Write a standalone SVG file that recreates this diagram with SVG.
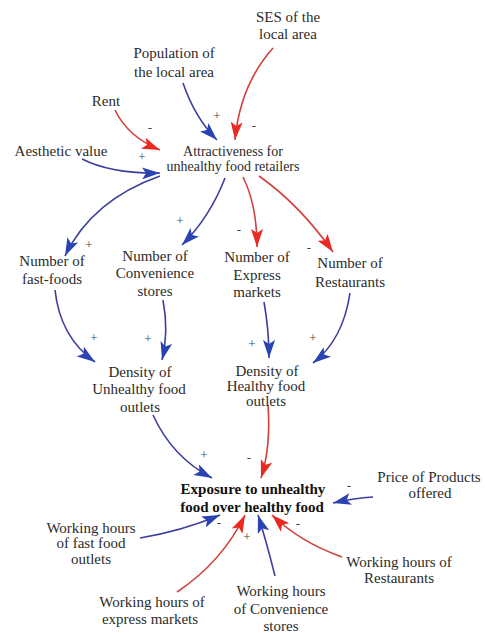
<svg xmlns="http://www.w3.org/2000/svg" width="485" height="633" viewBox="0 0 485 633">
  <style>
    text { font-family: "Liberation Serif", "DejaVu Serif", "Times New Roman", serif; font-size: 15px; fill: #2b2b2b; text-anchor: middle; }
    .small { font-size: 14px; }
    .bold { font-weight: bold; fill: #111; }
    .sign { font-size: 13px; fill: #444; }
    .pos { fill: none; stroke: #3d3f9e; stroke-width: 1.6; marker-end: url(#headBlue); }
    .neg { fill: none; stroke: #d2403c; stroke-width: 1.6; marker-end: url(#headRed); }
  </style>
  <defs>
    <marker id="headBlue" viewBox="0 0 18 12" refX="18" refY="6" markerWidth="18" markerHeight="12" markerUnits="userSpaceOnUse" orient="auto">
      <path d="M0,0 L18,6 L0,12 L4,6 Z" fill="#2b42b2"/>
    </marker>
    <marker id="headRed" viewBox="0 0 18 12" refX="18" refY="6" markerWidth="18" markerHeight="12" markerUnits="userSpaceOnUse" orient="auto">
      <path d="M0,0 L18,6 L0,12 L4,6 Z" fill="#ea2a22"/>
    </marker>
  </defs>

  <rect width="485" height="633" fill="#ffffff"/>

  <!-- causal links -->
  <g id="connectors">
    <path class="neg" d="M115,110 Q128,137 160,150"/>
    <path class="pos" d="M183,83 Q195,118 217,140"/>
    <path class="neg" d="M273,48 Q240,85 235,140"/>
    <path class="pos" d="M82,159 Q112,174 160,173"/>
    <path class="pos" d="M160,176 Q92,200 65,256"/>
    <path class="pos" d="M225,178 Q210,217 182,245"/>
    <path class="neg" d="M243,177 Q257,205 257,247"/>
    <path class="neg" d="M259,176 Q300,205 333,252"/>
    <path class="pos" d="M55,290 Q60,337 95,362"/>
    <path class="pos" d="M163,300 Q169,332 162,360"/>
    <path class="pos" d="M264,302 Q269,330 269,358"/>
    <path class="pos" d="M350,293 Q343,340 313,363"/>
    <path class="pos" d="M153,415 Q172,457 212,478"/>
    <path class="neg" d="M268,405 Q271,447 261,478"/>
    <path class="pos" d="M373,497 Q355,498 333,503"/>
    <path class="pos" d="M140,538 Q182,531 220,515"/>
    <path class="neg" d="M177,592 Q222,562 245,515"/>
    <path class="pos" d="M275,576 Q266,540 258,515"/>
    <path class="neg" d="M342,557 Q300,542 272,515"/>
  </g>

  <!-- link polarities -->
  <g id="polarities">
    <text class="sign" x="150" y="132">-</text>
    <text class="sign" x="217" y="120">+</text>
    <text class="sign" x="254" y="130">-</text>
    <text class="sign" x="142" y="161">+</text>
    <text class="sign" x="89" y="249">+</text>
    <text class="sign" x="180" y="225">+</text>
    <text class="sign" x="239" y="234">-</text>
    <text class="sign" x="309" y="252">-</text>
    <text class="sign" x="94" y="342">+</text>
    <text class="sign" x="148" y="343">+</text>
    <text class="sign" x="252" y="348">+</text>
    <text class="sign" x="313" y="342">+</text>
    <text class="sign" x="204" y="459">+</text>
    <text class="sign" x="249" y="462">-</text>
    <text class="sign" x="349" y="490">-</text>
    <text class="sign" x="219" y="527">-</text>
    <text class="sign" x="247" y="541">+</text>
    <text class="sign" x="298" y="528">-</text>
  </g>

  <g id="ses"><text x="288" y="22">SES of the</text><text x="288" y="39">local area</text></g>
  <g id="population"><text x="174" y="58">Population of</text><text x="174" y="77">the local area</text></g>
  <g id="rent"><text x="106" y="106">Rent</text></g>
  <g id="aesthetic"><text x="61" y="156">Aesthetic value</text></g>
  <g id="attractiveness"><text class="small" x="233" y="156">Attractiveness for</text><text class="small" x="233" y="171">unhealthy food retailers</text></g>

  <g id="num-fastfoods"><text x="52" y="266">Number of</text><text x="52" y="284">fast-foods</text></g>
  <g id="num-convenience"><text x="155" y="261">Number of</text><text x="155" y="278">Convenience</text><text x="155" y="296">stores</text></g>
  <g id="num-express"><text x="257" y="262">Number of</text><text x="257" y="280">Express</text><text x="257" y="297">markets</text></g>
  <g id="num-restaurants"><text x="350" y="268">Number of</text><text x="350" y="287">Restaurants</text></g>

  <g id="density-unhealthy"><text x="140" y="377">Density of</text><text x="139" y="394">Unhealthy food</text><text x="140" y="412">outlets</text></g>
  <g id="density-healthy"><text x="267" y="376">Density of</text><text x="266" y="391">Healthy food</text><text x="266" y="406">outlets</text></g>

  <g id="exposure"><text class="bold" x="253" y="494">Exposure to unhealthy</text><text class="bold" x="252" y="512">food over healthy food</text></g>

  <g id="price"><text x="429" y="482">Price of Products</text><text x="430" y="498">offered</text></g>
  <g id="wh-fastfood"><text x="91" y="533">Working hours</text><text x="91" y="548">of fast food</text><text x="91" y="564">outlets</text></g>
  <g id="wh-express"><text x="152" y="607">Working hours of</text><text x="150" y="624">express markets</text></g>
  <g id="wh-convenience"><text x="281" y="596">Working hours</text><text x="281" y="614">of Convenience</text><text x="281" y="631">stores</text></g>
  <g id="wh-restaurants"><text x="399" y="567">Working hours of</text><text x="399" y="583">Restaurants</text></g>
</svg>
